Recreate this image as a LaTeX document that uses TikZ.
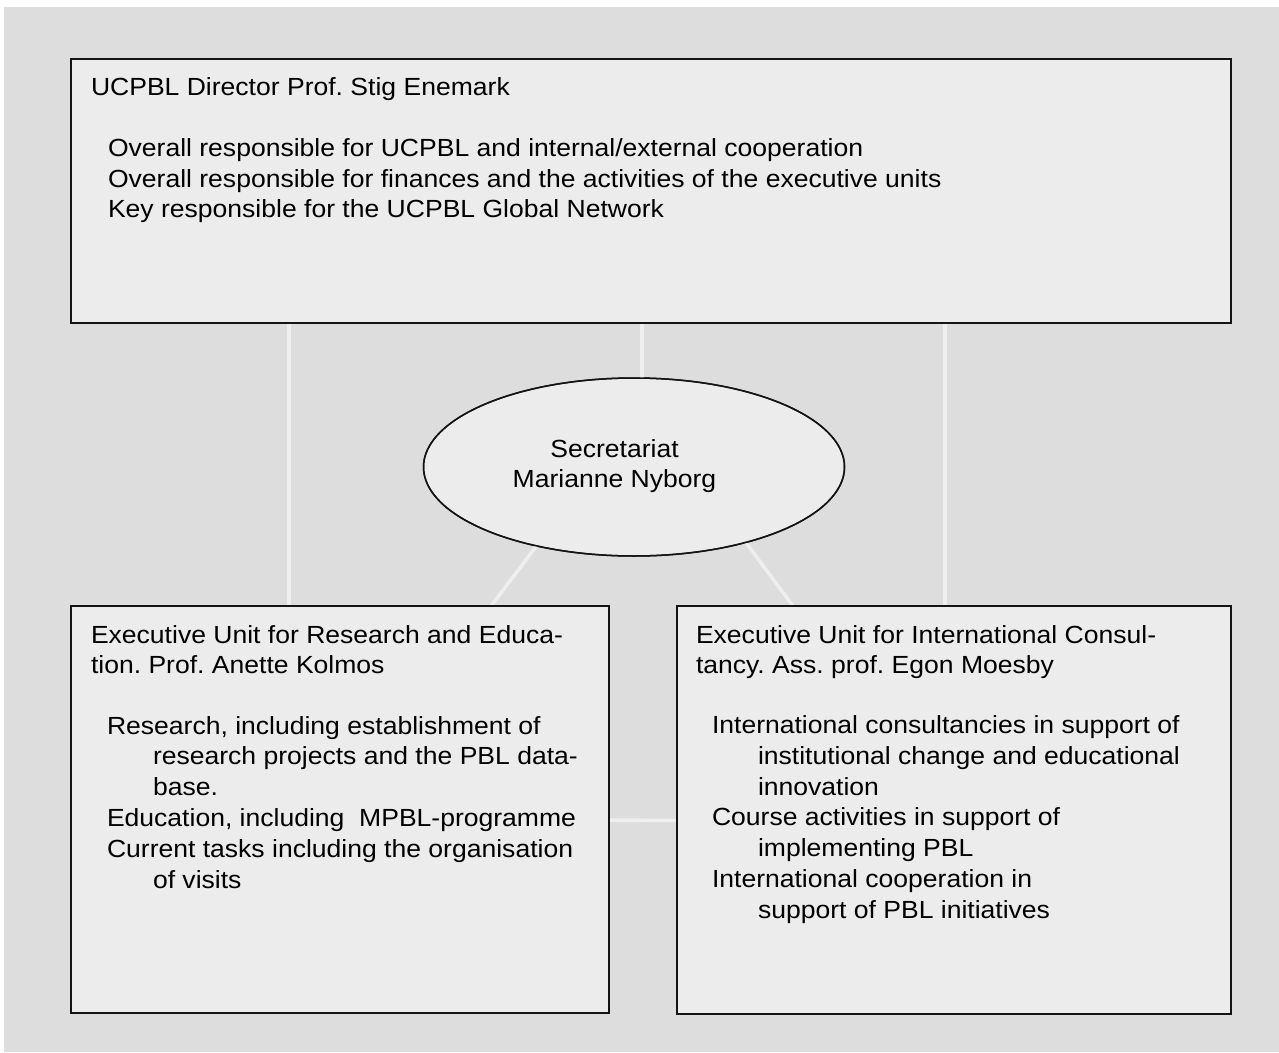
\documentclass[tikz,border=0pt]{standalone}
\usepackage{fontspec}
\setmainfont{Liberation Sans}[FakeStretch=1.07]
\usetikzlibrary{shapes.geometric,calc}
\frenchspacing
\definecolor{bggray}{HTML}{DDDDDD}
\definecolor{boxfill}{HTML}{ECECEC}
\definecolor{linkcol}{HTML}{EFEFEF}
\definecolor{edgecol}{HTML}{141414}
\tikzset{
  unitbox/.style={draw=edgecol, line width=2.3pt, fill=boxfill, rectangle, inner sep=0pt, outer sep=0pt},
  secbox/.style={draw=edgecol, line width=1.5pt, fill=boxfill, ellipse, inner sep=0pt, outer sep=0pt},
  txt/.style={anchor=base west, align=left, inner sep=0pt, outer sep=0pt, font=\frenchspacing\fontsize{24.8}{#1}\selectfont},
  link/.style={draw=linkcol, line width=3.5pt}
}
\begin{document}
\begin{tikzpicture}[x=1pt,y=-1pt]
\useasboundingbox (0,0) rectangle (1279,1052);
\fill[white] (0,0) rectangle (1279,1052);
\fill[bggray] (4,7) rectangle (1279,1052);

% boxes
\node[unitbox, minimum width=1160pt, minimum height=264pt] (top) at (651,191) {};
\node[unitbox, minimum width=538pt, minimum height=407pt] (bl) at (340,809.5) {};
\node[unitbox, minimum width=554pt, minimum height=408pt] (br) at (954,810) {};
\node[secbox, minimum width=421pt, minimum height=178pt] (sec) at (634,467) {};

% connectors
\coordinate (blA) at ($(bl.north west)+(218,0)$);
\coordinate (brA) at ($(br.north west)+(268,0)$);
\coordinate (blB) at ($(bl.north west)+(420,0)$);
\coordinate (brB) at ($(br.north west)+(116,0)$);
\coordinate (secT) at (sec.85);
\draw[link] (top.south -| blA) -- (blA);
\draw[link] (top.south -| brA) -- (brA);
\draw[link] (top.south -| secT) -- (secT);
\draw[link] (sec.219) -- (blB);
\draw[link] (sec.326) -- (brB);
\draw[link] ($(bl.east)+(0,10.5)$) -- ($(br.west)+(0,10.5)$);

% redraw borders over connector ends
\draw[draw=edgecol, line width=2.3pt] (top.south west) -- (top.south east);
\draw[draw=edgecol, line width=2.3pt] (bl.north west) -- (bl.north east) (bl.north east) -- (bl.south east);
\draw[draw=edgecol, line width=2.3pt] (br.north west) -- (br.north east) (br.north west) -- (br.south west);
\draw[draw=edgecol, line width=1.5pt] (sec) ellipse [x radius=210.5pt, y radius=89pt];

% texts (base anchor = baseline of the last line)
\node[txt=30.5] (toptitle) at (91,95) {UCPBL Director Prof. Stig Enemark};
\node[txt=30.5] (topitems) at (108,217.5) {Overall responsible for UCPBL and internal/external cooperation\\
Overall responsible for finances and the activities of the executive units\\
Key responsible for the UCPBL Global Network};

\node[txt=30] (bltitle) at (91,673) {Executive Unit for Research and Educa-\\tion. Prof. Anette Kolmos};
\node[txt=30.8] (blitems) at (107,888) {Research, including establishment of\\
\hspace*{46pt}research projects and the PBL data-\\
\hspace*{46pt}base.\\
Education, including\ \ MPBL-programme\\
Current tasks including the organisation\\
\hspace*{46pt}of visits};

\node[txt=30] (brtitle) at (696,673) {Executive Unit for International Consul-\\tancy. Ass. prof. Egon Moesby};
\node[txt=30.8] (britems) at (712,918.3) {International consultancies in support of\\
\hspace*{46pt}institutional change and educational\\
\hspace*{46pt}innovation\\
Course activities in support of\\
\hspace*{46pt}implementing PBL\\
International cooperation in\\
\hspace*{46pt}support of PBL initiatives};

\node[txt=30, anchor=base, align=center] (sectext) at (614.5,487) {Secretariat\\Marianne Nyborg};
\end{tikzpicture}
\end{document}
